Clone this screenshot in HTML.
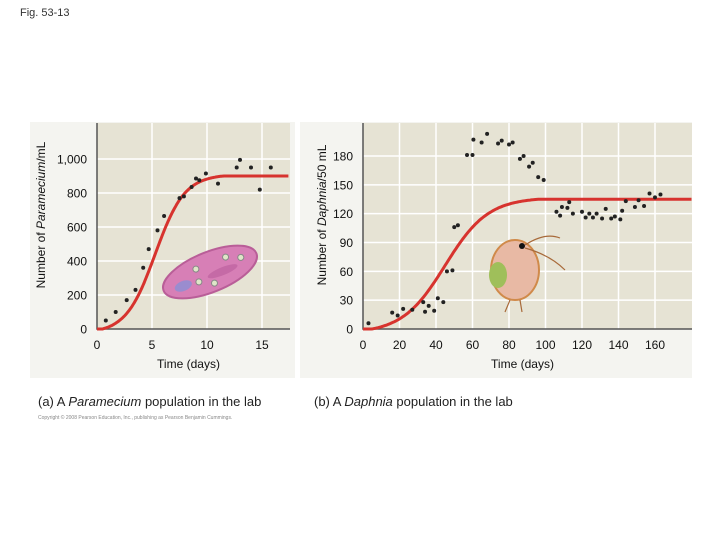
<!DOCTYPE html>
<html><head><meta charset="utf-8"><style>
body{margin:0;background:#fff;}
svg text{font-family:"Liberation Sans",Arial,sans-serif;}
</style></head><body>
<svg width="720" height="540" xmlns="http://www.w3.org/2000/svg">
<text x="20" y="16" font-size="11" fill="#333">Fig. 53-13</text>
<rect x="30" y="122" width="265" height="256" fill="#f4f4f0"/>
<rect x="300" y="122" width="392" height="256" fill="#f4f4f0"/>
<g id="chartA"></g>
<g id="chartB"></g>
<text x="38" y="406" font-size="13" fill="#222">(a) A <tspan font-style="italic">Paramecium</tspan> population in the lab</text>
<text x="314" y="406" font-size="13" fill="#222">(b) A <tspan font-style="italic">Daphnia</tspan> population in the lab</text>
<text x="38" y="419" font-size="5" fill="#888">Copyright © 2008 Pearson Education, Inc., publishing as Pearson Benjamin Cummings.</text>
</svg>
<script>
const NS="http://www.w3.org/2000/svg";
function mk(p,t,a){const e=document.createElementNS(NS,t);for(const k in a)e.setAttribute(k,a[k]);p.appendChild(e);return e;}

// Panel A data
const aDays=[0.8,1.7,2.7,3.5,4.2,4.7,5.5,6.1,7.5,7.9,8.6,9,9.3,9.9,11,12.7,13,14,14.8,15.8];
const aCounts=[50,100,170,230,360,470,580,665,770,780,835,885,875,915,855,950,995,950,820,950];
const aYTicks=[0,200,400,600,800,1000];
const aYLabels=["0","200","400","600","800","1,000"];
const aXTicks=[0,5,10,15];
const aK=900, aR=0.75, aMid=5.3, aStart=0.5, aEnd=11.5;

// Panel B data
const bDays=[3,16,19,22,27,33,34,36,39,41,44,46,49,50,52,57,60,60.5,65,68,74,76,80,82,86,88,91,93,96,99,106,108,109,112,113,115,120,122,124,126,128,131,133,136,138,141,142,144,149,151,154,157,160,163];
const bCounts=[6,17,14,21,20,28,18,24,19,32,28,60,61,106,108,181,181,197,194,203,193,196,192,194,177,180,169,173,158,155,122,118,127,126,132,120,122,116,120,116,120,115,125,115,117,114,123,133,127,134,128,141,137,140];
const bYTicks=[0,30,60,90,120,150,180];
const bXTicks=[0,20,40,60,80,100,120,140,160];
const bK=135, bR=0.085, bMid=45, bStart=5, bEnd=96;

function chart(g,o){
  const xs=v=>o.x0+(v-o.xmin)*(o.x1-o.x0)/(o.xmax-o.xmin);
  const ys=v=>o.y0-(v)*(o.y0-o.y1)/o.ymax;
  mk(g,'rect',{x:o.x0,y:123,width:o.pr-o.x0,height:o.y0-123,fill:'#e6e3d4'});
  o.yt.forEach((t,i)=>{
    if(t>0){const l=mk(g,'line',{x1:o.x0,x2:o.pr,y1:ys(t),y2:ys(t),stroke:'#fff','stroke-width':1.5});
    
    }
    const tx=mk(g,'text',{x:o.x0-10,y:ys(t)+4.5,'font-size':12,'text-anchor':'end',fill:'#111'});
    tx.textContent=o.yl?o.yl[i]:t;
    
    
  });
  o.xt.forEach(t=>{
    if(t>0){const l=mk(g,'line',{x1:xs(t),x2:xs(t),y1:123,y2:o.y0,stroke:'#fff','stroke-width':1.5});
    
    }
    const tx=mk(g,'text',{x:xs(t),y:o.y0+20,'font-size':12,'text-anchor':'middle',fill:'#111'});
    tx.textContent=t;
    
    
  });
  const ax=mk(g,'path',{d:`M${o.x0},123V${o.y0}H${o.pr}`,fill:'none',stroke:'#555','stroke-width':1.5});
  
  
  o.illus(g);
  const L=t=>1/(1+Math.exp(-o.r*(t-o.mid)));
  const l0=L(o.cs), l1=L(o.ce);
  let d='';
  for(let t=o.xmin;t<=o.cend;t+=(o.cend-o.xmin)/240){
    let v=(L(t)-l0)/(l1-l0)*o.K;
    v=Math.max(0,Math.min(o.K,v));
    d+=(d?'L':'M')+xs(t).toFixed(1)+','+ys(v).toFixed(1);
  }
  const c=mk(g,'path',{d:d,fill:'none',stroke:'#d7332e','stroke-width':3});
  
  
  o.xd.forEach((x,i)=>{
    const p=mk(g,'circle',{cx:xs(x),cy:ys(o.yd[i]),r:2,fill:'#222'});
    
    
  });
  const xt=mk(g,'text',{x:(o.x0+o.pr)/2-5,y:o.y0+39,'font-size':12,'text-anchor':'middle',fill:'#111'});
  xt.textContent='Time (days)';
  
  
  const yt=mk(g,'text',{transform:`translate(${o.ytx},${o.yty}) rotate(-90)`,'font-size':12,'text-anchor':'middle',fill:'#111'});
  yt.innerHTML=o.ytitle;
  
  
}
chart(document.getElementById('chartA'),{x0:97,x1:262,xmin:0,xmax:15,pr:290,y0:329,y1:159,ymax:1000,yt:aYTicks,yl:aYLabels,xt:aXTicks,
  xd:aDays,yd:aCounts,K:aK,r:aR,mid:aMid,cs:aStart,ce:aEnd,cend:17.4,ytx:45,yty:215,ytitle:'Number of <tspan font-style="italic">Paramecium</tspan>/mL',
  illus:g=>{const e=mk(g,'g',{transform:'translate(210,272) rotate(-22)'});
    
    
    mk(e,'ellipse',{cx:0,cy:0,rx:50,ry:20,fill:'#d77fb6',stroke:'#b95e98','stroke-width':2});
    mk(e,'ellipse',{cx:-30,cy:3,rx:9,ry:5,fill:'#9a8ccf'});
    mk(e,'ellipse',{cx:12,cy:4,rx:16,ry:4,fill:'#c56aa6'});
    [[-12,-8],[-14,5],[0,12],[20,-8],[34,-2]].forEach(p=>mk(e,'circle',{cx:p[0],cy:p[1],r:3,fill:'#dfe6c8',stroke:'#888'}));}});
chart(document.getElementById('chartB'),{x0:363,x1:655,xmin:0,xmax:160,pr:692,y0:329,y1:156,ymax:180,yt:bYTicks,xt:bXTicks,
  xd:bDays,yd:bCounts,K:bK,r:bR,mid:bMid,cs:bStart,ce:bEnd,cend:180,ytx:326,yty:215,ytitle:'Number of <tspan font-style="italic">Daphnia</tspan>/50 mL',
  illus:g=>{const e=mk(g,'g',{});
    
    
    mk(e,'ellipse',{cx:515,cy:270,rx:24,ry:30,fill:'#e8b9a4',stroke:'#d08a4a','stroke-width':2});
    mk(e,'ellipse',{cx:498,cy:275,rx:9,ry:13,fill:'#9fbf5a'});
    mk(e,'circle',{cx:522,cy:246,r:3,fill:'#111'});
    mk(e,'path',{d:'M525,245 Q545,232 560,238 M525,248 Q550,255 565,270 M510,300 L505,312 M520,300 L522,312',stroke:'#a86a3a','stroke-width':1.2,fill:'none'});}});
</script>
</body></html>
